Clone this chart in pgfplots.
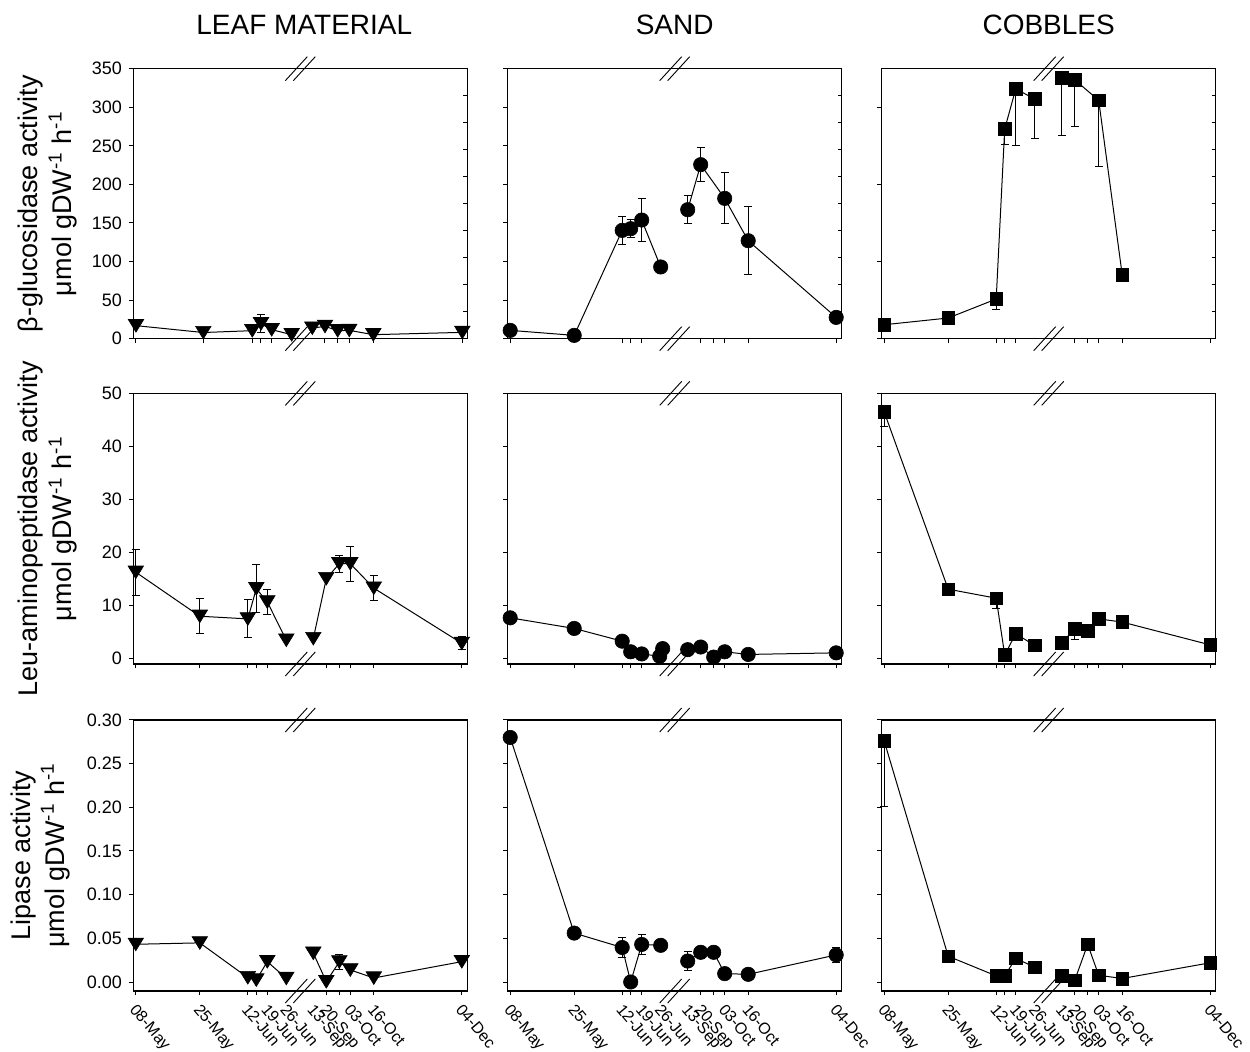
\documentclass[border=0pt]{standalone}
\usepackage{fontspec}
\setmainfont{Liberation Sans}
\usepackage{pgfplots}
\pgfplotsset{compat=1.18}

\pgfdeclareplotmark{dtri}{%
  \pgfpathmoveto{\pgfqpoint{-1.25\pgfplotmarksize}{1.0\pgfplotmarksize}}%
  \pgfpathlineto{\pgfqpoint{1.25\pgfplotmarksize}{1.0\pgfplotmarksize}}%
  \pgfpathlineto{\pgfqpoint{0pt}{-1.05\pgfplotmarksize}}%
  \pgfpathclose\pgfusepathqfillstroke}

\newcommand{\brk}{%
  \draw[line width=0.45pt] ([xshift=-7.5pt,yshift=-6pt]rel axis cs:0.5,1) -- ([xshift=3.5pt,yshift=6pt]rel axis cs:0.5,1);
  \draw[line width=0.45pt] ([xshift=-3.5pt,yshift=-6pt]rel axis cs:0.5,1) -- ([xshift=7.5pt,yshift=6pt]rel axis cs:0.5,1);
  \draw[line width=0.45pt] ([xshift=-7.5pt,yshift=-6pt]rel axis cs:0.5,0) -- ([xshift=3.5pt,yshift=6pt]rel axis cs:0.5,0);
  \draw[line width=0.45pt] ([xshift=-3.5pt,yshift=-6pt]rel axis cs:0.5,0) -- ([xshift=7.5pt,yshift=6pt]rel axis cs:0.5,0);}
\newcommand{\rticks}{%
  \pgfplotsinvokeforeach{0.1,0.2,0.3,0.4,0.5,0.6,0.7,0.8,0.9}{\draw[line width=0.4pt] (rel axis cs:1,##1) -- ([xshift=-2pt]rel axis cs:1,##1);}}

\pgfplotsset{
  panel/.style={scale only axis, width=167pt, xmin=0, xmax=334, clip=false,
    anchor=south west, tick pos=left, tick align=outside, major tick length=2.2pt,
    axis line style={line width=0.6pt}, tick style={line width=0.5pt, black},
    tick label style={font=\fontsize{9}{10}\selectfont},
    ylabel style={align=center, font=\fontsize{13.5}{17}\selectfont, inner sep=0pt, anchor=south},
    title style={at={(axis description cs:0.5,1)}, anchor=base, yshift=11pt, font=\fontsize{14}{16}\selectfont}},
  stdx/.style={xtick={2.5,66.5,114.5,123,134,193,206,217,240.5,328.5}, xticklabels={}},
  rowA/.style={panel, height=135pt, ymin=0, ymax=350},
  rowB/.style={panel, stdx, height=135.3pt, ymin=-1, ymax=50, ytick={0,10,20,30,40,50}},
  rowC/.style={panel, stdx, height=135.5pt, ymin=-0.0103, ymax=0.30, ytick={0,0.05,0.10,0.15,0.20,0.25,0.30},
    extra x ticks={2.5,66.5,114.5,134,153,180,193,217,240.5,328.5},
    extra x tick labels={08-May,25-May,12-Jun,19-Jun,26-Jun,13-Sep,20-Sep,03-Oct,16-Oct,04-Dec},
    extra x tick style={tick style={draw=none}, xticklabel style={xshift=1pt, yshift=-3.5pt, rotate=-50, anchor=north west, inner sep=0pt, font=\fontsize{8}{9}\selectfont}}},
  ser/.style={black, line width=0.5pt, mark options={solid, fill=black, line width=0.3pt},
    error bars/y dir=both, error bars/y explicit,
    error bars/error bar style={line width=0.5pt, black},
    error bars/error mark options={rotate=90, mark size=2pt, line width=0.5pt, black}},
  circ/.style={ser, mark=*, mark size=3.6pt},
  sq/.style={ser, mark=square*, mark size=3.15pt, error bars/y dir=minus},
  tri/.style={ser, mark=dtri, mark size=3.1pt},
}

\begin{document}
\begin{tikzpicture}
\path[use as bounding box] (0,0) rectangle (625pt,-526pt);

% ---------- Row 1: beta-glucosidase ----------
\begin{axis}[rowA, at={(66.65pt,-169.35pt)},
  xtick={2.7,70,119.5,127.7,138.4,191.7,204.4,216,240,329}, xticklabels={},
  ytick={0,50,100,150,200,250,300,350}, yticklabels={0,50,100,150,200,250,300,350},
  title={LEAF MATERIAL}, title style={xshift=2pt},
  ylabel={β-glucosidase activity\\μmol gDW\textsuperscript{-1} h\textsuperscript{-1}},
  ylabel style={at={(axis description cs:-0.1656,0.5)}}]
\addplot[tri] coordinates {(2.7,16.9) (70,8.0) (119,10.4) (127.7,19.4) +- (0,12) (138.4,11.7) (158.4,5.2)};
\addplot[tri] coordinates {(179,13.8) (191.7,16.0) (204.4,10.4) (216,10.8) (240,5.2) (329,8.2)};
\brk \rticks
\end{axis}

\begin{axis}[rowA, stdx, at={(253.85pt,-169.35pt)},
  ytick={0,50,100,150,200,250,300,350}, yticklabels={}, title={SAND}]
\addplot[circ] coordinates {(2.5,10.8) (66.5,4.3) (114.5,140.4) +- (0,18) (123,142.6) +- (0,12) (134,153.8) +- (0,28) (153,93)};
\addplot[circ] coordinates {(180,167.2) +- (0,18) (193,225.6) +- (0,22) (217,181.9) +- (0,33) (240.5,127) +- (0,44) (328.5,27.6)};
\brk \rticks
\end{axis}

\begin{axis}[rowA, stdx, at={(440.85pt,-169.35pt)},
  ytick={0,100,200,300}, yticklabels={}, title={COBBLES}]
\addplot[sq] coordinates {(2.5,18.1) (66.5,26.8) (114.5,51.4) +- (0,13) (123,271.8) +- (0,20) (134,323.6) +- (0,73) (153,311) +- (0,52)};
\addplot[sq] coordinates {(180,338) +- (0,74) (193,335.7) +- (0,60) (217,308.9) +- (0,86) (240.5,83)};
\brk \rticks
\end{axis}

% ---------- Row 2: Leu-aminopeptidase ----------
\begin{axis}[rowB, at={(66.65pt,-332pt)}, yticklabels={0,10,20,30,40,50},
  ylabel={Leu-aminopeptidase activity\\μmol gDW\textsuperscript{-1} h\textsuperscript{-1}},
  ylabel style={at={(axis description cs:-0.1656,0.5)}}]
\addplot[tri] coordinates {(2.5,16.3) +- (0,4.3) (66.5,8.0) +- (0,3.3) (114.5,7.5) +- (0,3.6) (123,13.2) +- (0,4.5) (134,10.7) +- (0,2.3) (153,3.5)};
\addplot[tri] coordinates {(180,3.8) (193,15.1) (206,17.9) +- (0,1.6) (217,17.9) +- (0,3.3) (240.5,13.3) +- (0,2.4) (328.5,2.9) +- (0,1.2)};
\brk
\end{axis}

\begin{axis}[rowB, at={(253.85pt,-332pt)}, yticklabels={}]
\addplot[circ] coordinates {(2.5,7.7) (66.5,5.7) +- (0,1.1) (114.5,3.3) (123,1.3) (134,0.9) (152,0.45)};
\addplot[circ, only marks] coordinates {(155,1.9)};
\addplot[circ] coordinates {(180,1.7) (193,2.2) (206,0.3) (217,1.3) (240.5,0.8) (328.5,1.1)};
\brk
\end{axis}

\begin{axis}[rowB, at={(440.85pt,-332pt)}, yticklabels={}]
\addplot[sq] coordinates {(2.5,46.5) +- (0,2.8) (66.5,13.1) (114.5,11.4) +- (0,2) (123,0.7) (134,4.7) +- (0,0.8) (153,2.5)};
\addplot[sq] coordinates {(180,3.0) (193,5.6) +- (0,2) (206,5.2) (217,7.5) (240.5,6.9) (328.5,2.6)};
\brk
\end{axis}

% ---------- Row 3: Lipase ----------
\begin{axis}[rowC, at={(66.65pt,-495.5pt)}, yticklabels={0.00,0.05,0.10,0.15,0.20,0.25,0.30},
  ylabel={Lipase activity\\μmol gDW\textsuperscript{-1} h\textsuperscript{-1}},
  ylabel style={at={(axis description cs:-0.1886,0.5)}}]
\addplot[tri] coordinates {(2.5,0.0432) (66.5,0.0448) (114.5,0.005) (123,0.0023) (134,0.0233) (153,0.0042)};
\addplot[tri] coordinates {(180,0.033) (193,0.0004) (206,0.023) +- (0,0.009) (217,0.0138) (240.5,0.0046) (328.5,0.0233)};
\brk
\end{axis}

\begin{axis}[rowC, at={(253.85pt,-495.5pt)}, yticklabels={}]
\addplot[circ] coordinates {(2.5,0.280) (66.5,0.056) (114.5,0.0395) +- (0,0.011) (123,0.0) (134,0.043) +- (0,0.011) (153,0.042)};
\addplot[circ] coordinates {(180,0.024) +- (0,0.011) (193,0.034) +- (0,0.007) (206,0.034) +- (0,0.007) (217,0.0096) (240.5,0.0088) (328.5,0.031) +- (0,0.009)};
\brk
\end{axis}

\begin{axis}[rowC, at={(440.85pt,-495.5pt)}, yticklabels={}]
\addplot[sq] coordinates {(2.5,0.276) +- (0,0.075) (66.5,0.0295) +- (0,0.003) (114.5,0.007) (123,0.007) (134,0.027) (153,0.017)};
\addplot[sq] coordinates {(180,0.007) (193,0.002) (206,0.043) (217,0.0077) (240.5,0.004) (328.5,0.022)};
\brk
\end{axis}
\end{tikzpicture}
\end{document}
